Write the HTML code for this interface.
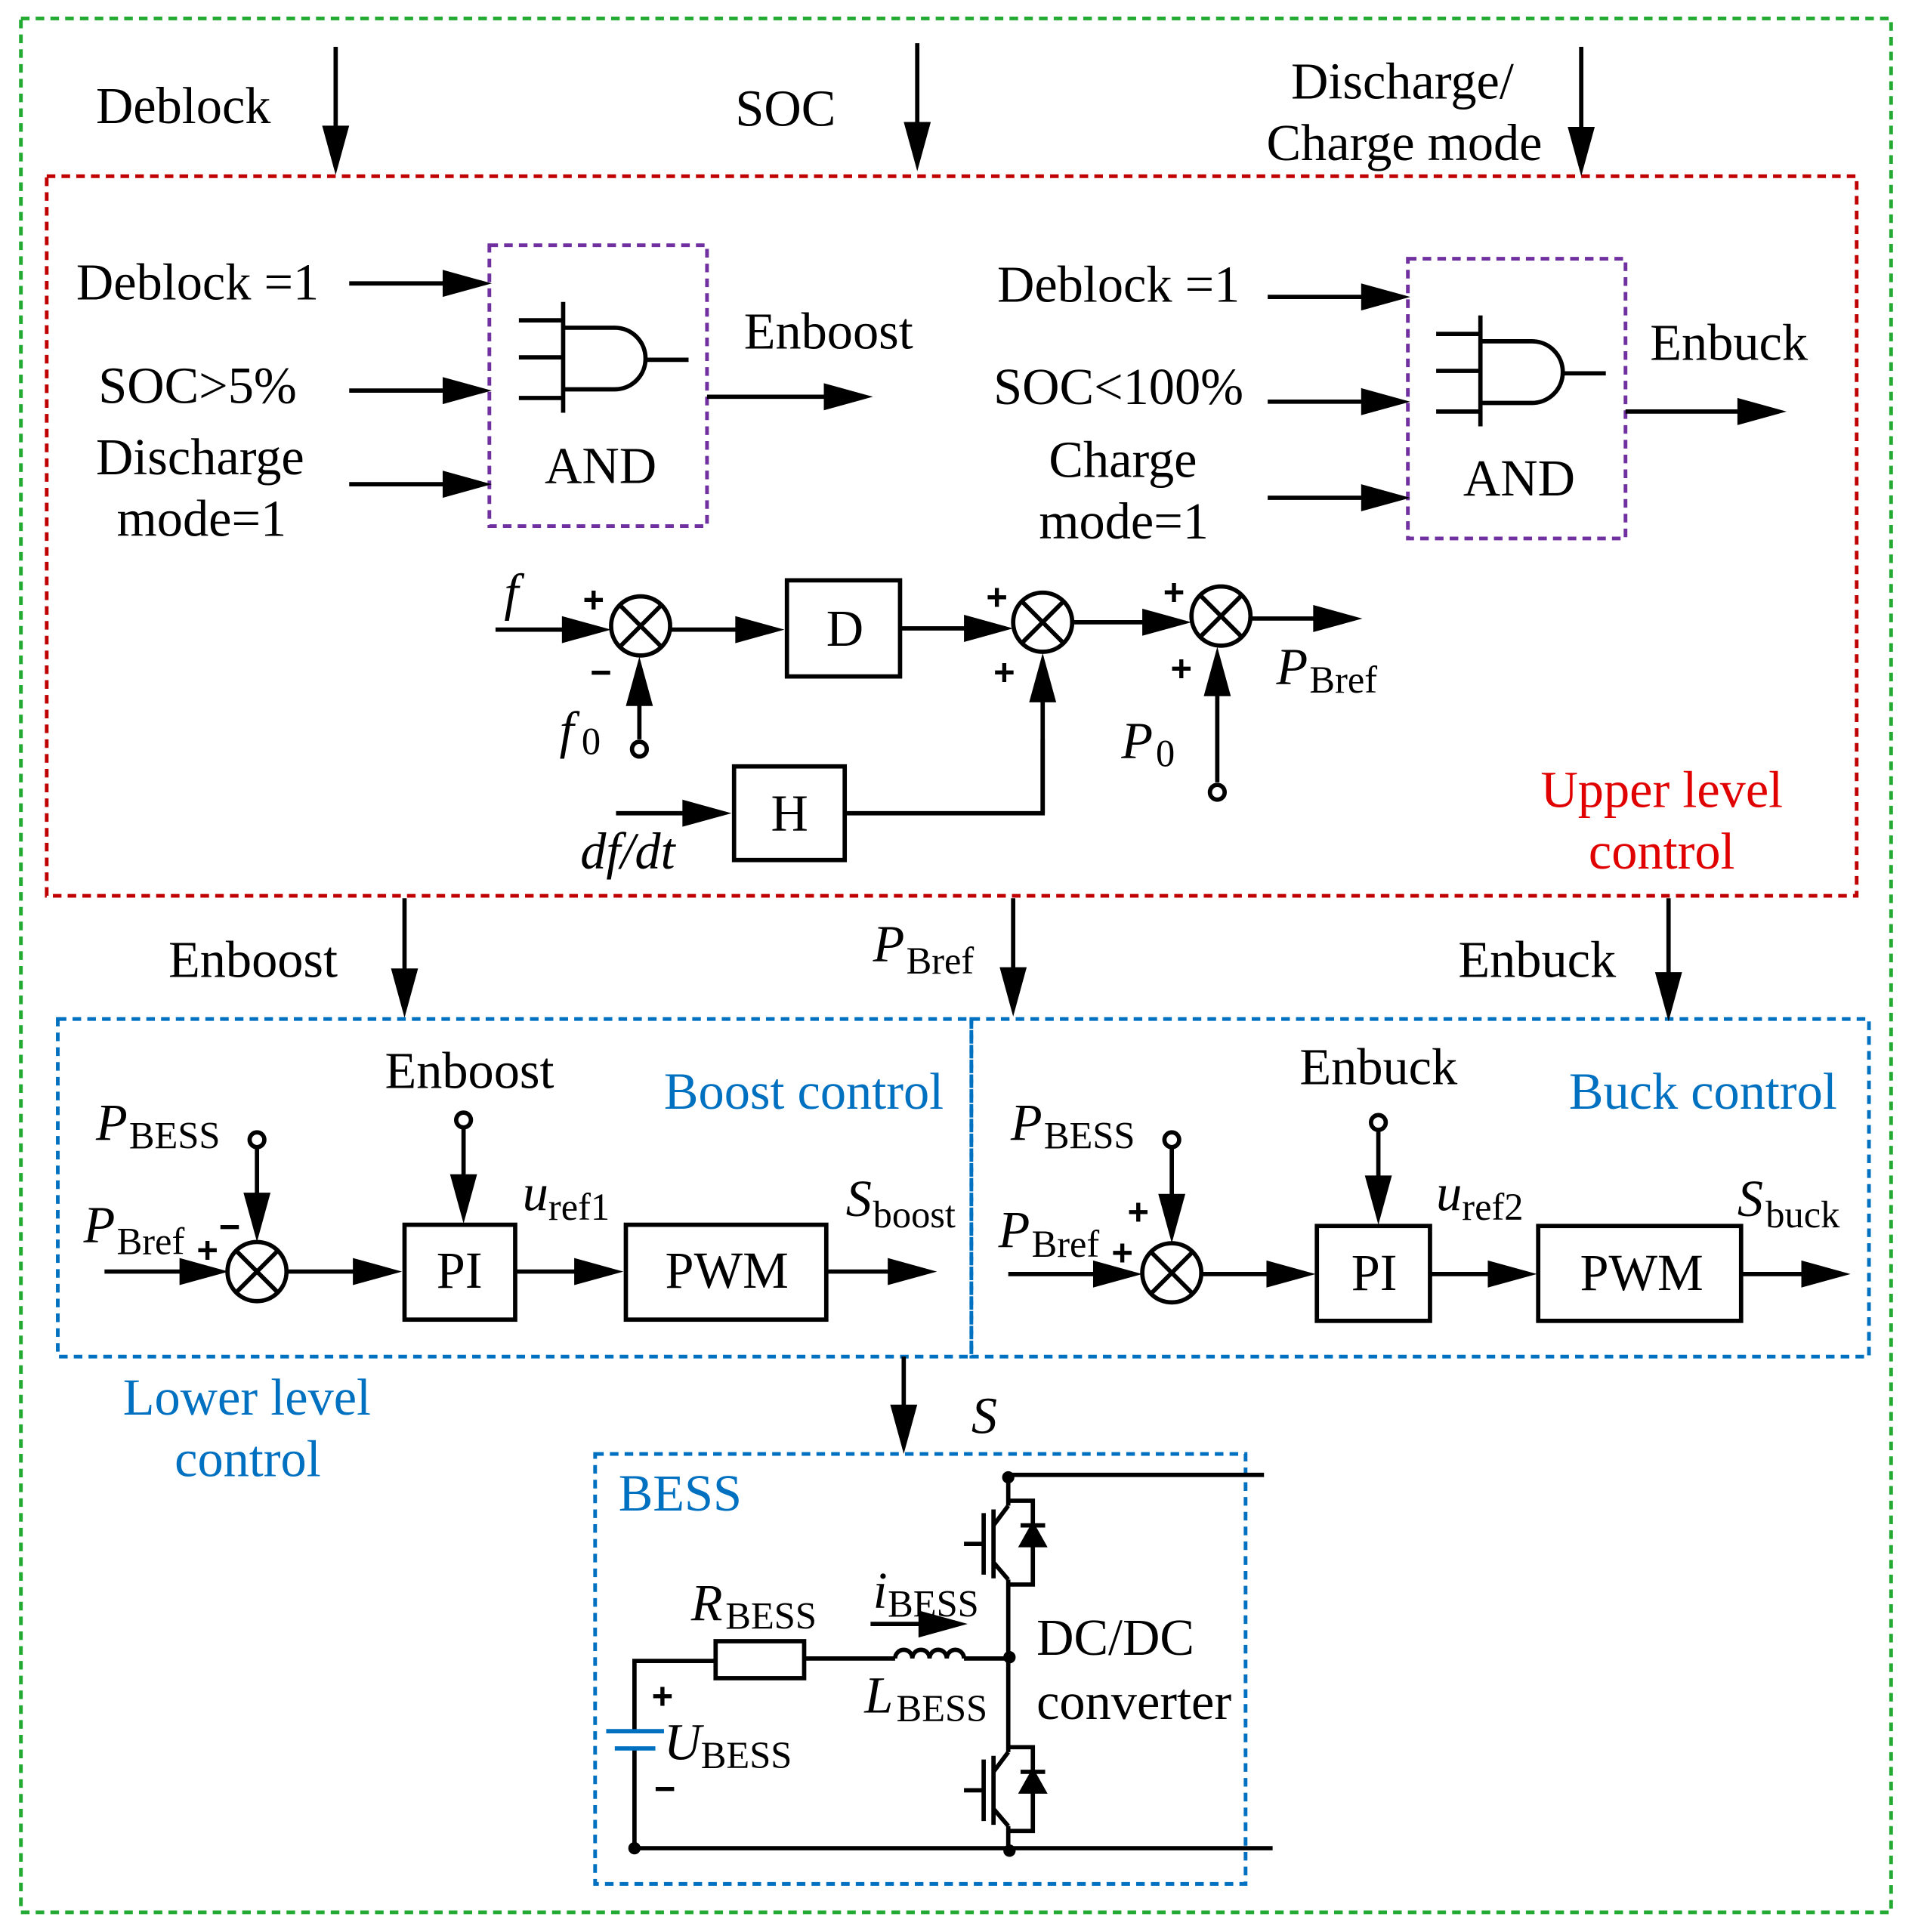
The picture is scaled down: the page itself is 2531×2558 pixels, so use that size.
<!DOCTYPE html>
<html><head><meta charset="utf-8"><style>
html,body{margin:0;padding:0;background:#fff;}
svg{display:block;}
text{font-family:"Liberation Serif",serif;font-size:42px;fill:#000;}
.b{fill:#0070c0;} .r{fill:#e00000;}
.i{font-style:italic;}
.s{font-size:31px;}
.pl{font-family:"Liberation Sans",sans-serif;font-size:30px;font-weight:bold;}
</style></head><body>
<svg width="2531" height="2558" viewBox="0 0 1555 1568" preserveAspectRatio="none" xmlns="http://www.w3.org/2000/svg">
<g fill="none" stroke-width="3">
<rect x="17" y="15" width="1521" height="1537" stroke="#22aa33" stroke-dasharray="7,5"/>
<rect x="38" y="143" width="1472" height="584" stroke="#c00000" stroke-dasharray="7,5"/>
<rect x="398" y="199" width="177" height="228" stroke="#7030a0" stroke-dasharray="7,5"/>
<rect x="1145" y="210" width="177" height="227" stroke="#7030a0" stroke-dasharray="7,5"/>
<rect x="47" y="827" width="743" height="274" stroke="#0070c0" stroke-dasharray="7,5"/>
<rect x="790" y="827" width="730" height="274" stroke="#0070c0" stroke-dasharray="7,5"/>
<rect x="484" y="1180" width="529" height="349" stroke="#0070c0" stroke-dasharray="7,5"/>
</g>
<g id="arrows" stroke="#000" stroke-width="3.5" fill="none">
</g>
<script>
(function(){
var g=document.getElementById('arrows');var ns='http://www.w3.org/2000/svg';
function ar(x1,y1,x2,y2){
 var l=document.createElementNS(ns,'line');
 var dx=x2-x1,dy=y2-y1,L=Math.hypot(dx,dy),ux=dx/L,uy=dy/L,h=40,w=11;
 l.setAttribute('x1',x1);l.setAttribute('y1',y1);l.setAttribute('x2',x2-ux*h*0.8);l.setAttribute('y2',y2-uy*h*0.8);g.appendChild(l);
 var p=document.createElementNS(ns,'polygon');
 var bx=x2-ux*h,by=y2-uy*h;
 p.setAttribute('points',x2+','+y2+' '+(bx-uy*w)+','+(by+ux*w)+' '+(bx+uy*w)+','+(by-ux*w));
 p.setAttribute('fill','#000');p.setAttribute('stroke','none');g.appendChild(p);}
ar(273,38,273,142);ar(746,35,746,139);ar(1286,38,1286,143);
ar(284,230,400,230);ar(284,317,400,317);ar(284,393,400,393);ar(575,322,710,322);
ar(1031,241,1147,241);ar(1031,326,1147,326);ar(1031,404,1147,404);ar(1322,334,1453,334);
ar(403,511,497,511);ar(520,600,520,533);ar(545,511,638,511);ar(732,510,824,510);
ar(501,660,595,660);ar(848,660,848,530);ar(872,505,969,505);ar(990,635,990,525);ar(1017,502,1108,502);
ar(329,729,329,826);ar(824,729,824,825);ar(1357,729,1357,829);
ar(85,1032,186,1032);ar(209,932,209,1008);ar(233,1032,327,1032);ar(377,916,377,993);ar(419,1032,507,1032);ar(672,1032,762,1032);
ar(820,1034,929,1034);ar(953,932,953,1009);ar(977,1034,1070,1034);ar(1121,918,1121,994);ar(1163,1034,1250,1034);ar(1416,1034,1505,1034);
ar(735,1101,735,1180);ar(708,1318,787,1318);
})();
</script>
<g stroke="#000" stroke-width="3.5" fill="none">
<g>
<line x1="422" y1="260" x2="458" y2="260"/><line x1="422" y1="290" x2="458" y2="290"/><line x1="422" y1="323" x2="458" y2="323"/>
<line x1="458" y1="245" x2="458" y2="335"/>
<path d="M458 266 H500 A25 25 0 0 1 500 316 H458"/>
<line x1="525" y1="292" x2="560" y2="292"/>
</g>
<g transform="translate(746,11)">
<line x1="422" y1="260" x2="458" y2="260"/><line x1="422" y1="290" x2="458" y2="290"/><line x1="422" y1="323" x2="458" y2="323"/>
<line x1="458" y1="245" x2="458" y2="335"/>
<path d="M458 266 H500 A25 25 0 0 1 500 316 H458"/>
<line x1="525" y1="292" x2="560" y2="292"/>
</g>
<circle cx="521" cy="508" r="24"/><path d="M504 491 L538 525 M538 491 L504 525"/>
<circle cx="848" cy="505" r="24"/><path d="M831 488 L865 522 M865 488 L831 522"/>
<circle cx="993" cy="500" r="24"/><path d="M976 483 L1010 517 M1010 483 L976 517"/>
<circle cx="209" cy="1032" r="24"/><path d="M192 1015 L226 1049 M226 1015 L192 1049"/>
<circle cx="953" cy="1033" r="24"/><path d="M936 1016 L970 1050 M970 1016 L936 1050"/>
<circle cx="520" cy="608" r="6"/><circle cx="990" cy="643" r="6"/>
<circle cx="209" cy="925" r="6"/><circle cx="377" cy="909" r="6"/>
<circle cx="953" cy="925" r="6"/><circle cx="1121" cy="911" r="6"/>
<rect x="640" y="471" width="92" height="78"/><rect x="597" y="622" width="90" height="76"/>
<polyline points="687,660 848,660 848,600"/>
<rect x="329" y="994" width="90" height="77"/><rect x="509" y="994" width="163" height="77"/>
<rect x="1071" y="995" width="92" height="77"/><rect x="1251" y="995" width="165" height="77"/>
<line x1="820" y1="1197" x2="1028" y2="1197"/>
<line x1="516" y1="1500" x2="1035" y2="1500"/>
<polyline points="516,1405 516,1348 582,1348"/>
<line x1="516" y1="1420" x2="516" y2="1500"/>
<rect x="582" y="1332" width="72" height="30"/>
<line x1="654" y1="1346" x2="728" y2="1346"/>
<path d="M728 1346 a7 7 0 0 1 14 0 a7 7 0 0 1 14 0 a7 7 0 0 1 14 0 a7 7 0 0 1 14 0"/>
<line x1="784" y1="1346" x2="820" y2="1346"/>
<line x1="820" y1="1197" x2="820" y2="1222"/><line x1="820" y1="1282" x2="820" y2="1422"/><line x1="820" y1="1482" x2="820" y2="1500"/>
<g>
<line x1="800" y1="1228" x2="800" y2="1278"/><line x1="808" y1="1225" x2="808" y2="1281"/>
<line x1="784" y1="1253" x2="800" y2="1253"/>
<line x1="808" y1="1238" x2="820" y2="1222"/><line x1="808" y1="1268" x2="820" y2="1282"/>
<polyline points="820,1218 840,1218 840,1286 820,1286"/>
<polygon points="840,1238 831,1254 849,1254" fill="#000"/><line x1="830" y1="1238" x2="850" y2="1238"/>
</g>
<g transform="translate(0,200)">
<line x1="800" y1="1228" x2="800" y2="1278"/><line x1="808" y1="1225" x2="808" y2="1281"/>
<line x1="784" y1="1253" x2="800" y2="1253"/>
<line x1="808" y1="1238" x2="820" y2="1222"/><line x1="808" y1="1268" x2="820" y2="1282"/>
<polyline points="820,1218 840,1218 840,1286 820,1286"/>
<polygon points="840,1238 831,1254 849,1254" fill="#000"/><line x1="830" y1="1238" x2="850" y2="1238"/>
</g>
<line x1="493" y1="1405" x2="540" y2="1405" stroke="#0070c0"/>
<line x1="500" y1="1419" x2="533" y2="1419" stroke="#0070c0"/>
</g>
<g fill="#000"><circle cx="820" cy="1199" r="5"/><circle cx="821" cy="1345" r="5"/><circle cx="516" cy="1500" r="5"/><circle cx="821" cy="1502" r="5"/></g>
<text x="78" y="100">Deblock</text><text x="598" y="102">SOC</text>
<text x="1050" y="80">Discharge/</text><text x="1030" y="130">Charge mode</text>
<text x="62" y="243">Deblock =1</text><text x="80" y="327">SOC&gt;5%</text>
<text x="78" y="385">Discharge</text><text x="95" y="435">mode=1</text>
<text x="443" y="392">AND</text><text x="605" y="283">Enboost</text>
<text x="811" y="245">Deblock =1</text><text x="808" y="328">SOC&lt;100%</text>
<text x="853" y="387">Charge</text><text x="845" y="437">mode=1</text>
<text x="1190" y="402">AND</text><text x="1342" y="292">Enbuck</text>
<text x="672" y="524">D</text><text x="627" y="674">H</text>
<text x="410" y="495" class="i">f</text>
<text x="455" y="607" class="i">f</text><text x="473" y="612" class="s">0</text>
<text x="472" y="705" class="i">df/dt</text>
<text x="912" y="615" class="i">P</text><text x="940" y="622" class="s">0</text>
<text x="1038" y="555" class="i">P</text><text x="1065" y="562" class="s">Bref</text>
<text x="474" y="497" class="pl">+</text><text x="480" y="556" class="pl">−</text>
<text x="802" y="495" class="pl">+</text><text x="808" y="556" class="pl">+</text>
<text x="946" y="491" class="pl">+</text><text x="952" y="553" class="pl">+</text>
<text x="1253" y="655" class="r">Upper level</text><text x="1292" y="705" class="r">control</text>
<text x="137" y="793">Enboost</text>
<text x="710" y="780" class="i">P</text><text x="737" y="790" class="s">Bref</text>
<text x="1186" y="793">Enbuck</text>
<text x="313" y="883">Enboost</text><text x="540" y="900" class="b">Boost control</text>
<text x="78" y="925" class="i">P</text><text x="105" y="932" class="s">BESS</text>
<text x="68" y="1008" class="i">P</text><text x="95" y="1018" class="s">Bref</text>
<text x="160" y="1025" class="pl">+</text><text x="178" y="1006" class="pl">−</text>
<text x="355" y="1045">PI</text><text x="541" y="1045">PWM</text>
<text x="425" y="982" class="i">u</text><text x="446" y="990" class="s">ref1</text>
<text x="688" y="987" class="i">S</text><text x="710" y="996" class="s">boost</text>
<text x="1057" y="880">Enbuck</text><text x="1276" y="900" class="b">Buck control</text>
<text x="822" y="925" class="i">P</text><text x="849" y="932" class="s">BESS</text>
<text x="812" y="1012" class="i">P</text><text x="839" y="1020" class="s">Bref</text>
<text x="904" y="1027" class="pl">+</text><text x="917" y="994" class="pl">+</text>
<text x="1099" y="1047">PI</text><text x="1285" y="1047">PWM</text>
<text x="1168" y="982" class="i">u</text><text x="1189" y="990" class="s">ref2</text>
<text x="1413" y="987" class="i">S</text><text x="1436" y="996" class="s">buck</text>
<text x="100" y="1148" class="b">Lower level</text><text x="142" y="1198" class="b">control</text>
<text x="790" y="1163" class="i">S</text>
<text x="503" y="1226" class="b">BESS</text>
<text x="562" y="1315" class="i">R</text><text x="590" y="1322" class="s">BESS</text>
<text x="710" y="1305" class="i">i</text><text x="722" y="1312" class="s">BESS</text>
<text x="703" y="1390" class="i">L</text><text x="729" y="1397" class="s">BESS</text>
<text x="540" y="1428" class="i">U</text><text x="570" y="1435" class="s">BESS</text>
<text x="530" y="1387" class="pl">+</text><text x="532" y="1462" class="pl">−</text>
<text x="843" y="1343">DC/DC</text><text x="843" y="1395">converter</text>
</svg>
</body></html>
